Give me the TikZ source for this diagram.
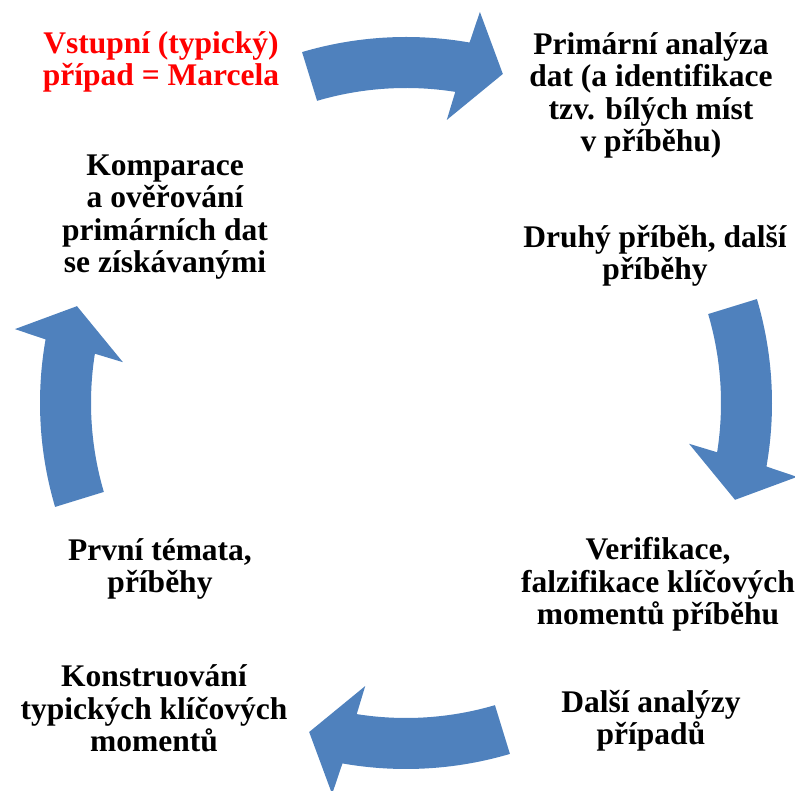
\documentclass[tikz,border=0pt]{standalone}
\usepackage{fontspec}
\setmainfont{Liberation Serif}
\usepackage{xcolor}
\usetikzlibrary{calc}
\definecolor{cycleblue}{RGB}{79,129,189}

\begin{document}
\begin{tikzpicture}[
  x=1pt,y=1pt,
  line join=round,
  steptext/.style={font=\bfseries\fontsize{31.5}{32.5}\selectfont,
    align=center,anchor=base,inner sep=0pt},
  starttext/.style={steptext,text=red},
  cyclearrow/.style={fill=cycleblue,draw=none}
]
\path[use as bounding box] (0,0) rectangle (795,791);

\coordinate (C) at (406,388);

% four curved block arrows round the cycle
\foreach \rot in {0,-90,-180,-270}{
  \path[cyclearrow,shift={(C)},rotate=\rot]
    (106.5:366) arc[start angle=106.5,end angle=80,radius=366]
    -- (79.3:398) -- (73.6:343) -- (81.8:286) -- (81:315)
    arc[start angle=81,end angle=106.4,radius=315] -- cycle;
}

% the base anchor sits on the last line
\node[starttext] (start) at (161,705)
  {Vstupní (typický)\\případ = Marcela};
\node[steptext] (primary) at (651,639)
  {Primární analýza\\dat (a identifikace\\tzv. bílých míst\\v příběhu)};
\node[steptext] (second) at (655,511)
  {Druhý příběh, další\\příběhy};
\node[steptext] (verif) at (658,166)
  {Verifikace,\\falzifikace klíčových\\momentů příběhu};
\node[steptext] (further) at (651,46)
  {Další analýzy\\případů};
\node[steptext] (construct) at (154,39)
  {Konstruování\\typických klíčových\\momentů};
\node[steptext] (themes) at (160,198)
  {První témata,\\příběhy};
\node[steptext] (compare) at (165,518)
  {Komparace\\a ověřování\\primárních dat\\se získávanými};
\end{tikzpicture}
\end{document}
